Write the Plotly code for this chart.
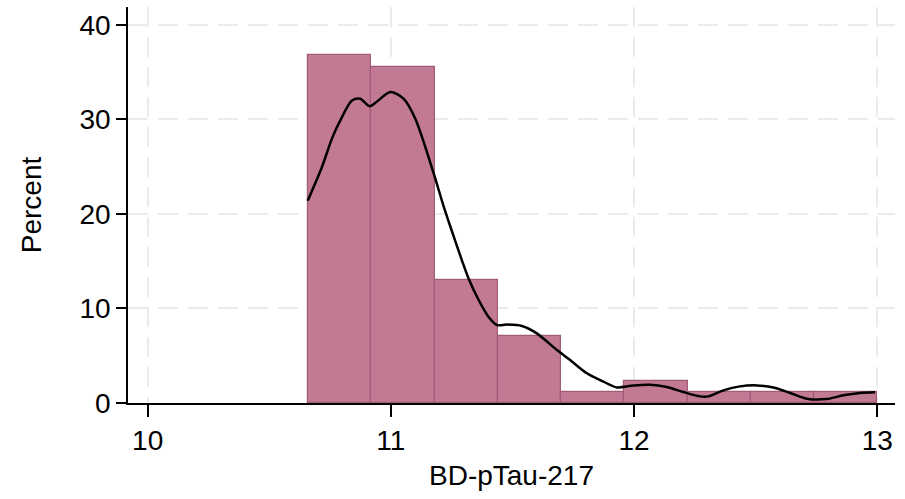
import plotly.graph_objects as go

# Histogram bin edges and percentages
bin_edges = [10.66, 10.92, 11.18, 11.44, 11.70, 11.96, 12.22, 12.48, 12.74, 13.00]
percent = [36.8, 35.6, 13.0, 7.1, 1.15, 2.35, 1.15, 1.15, 1.15]

# Kernel density curve (scaled to percent)
kde_x = [10.658, 10.717, 10.758, 10.792, 10.840, 10.874, 10.912, 10.943, 10.998,
         11.052, 11.100, 11.176, 11.217, 11.244, 11.292, 11.319, 11.361, 11.402,
         11.436, 11.477, 11.539, 11.600, 11.683, 11.737, 11.806, 11.874, 11.929,
         11.998, 12.066, 12.135, 12.203, 12.272, 12.306, 12.367, 12.436, 12.505,
         12.573, 12.642, 12.710, 12.792, 12.861, 12.929, 12.991]
kde_y = [21.4, 25.0, 28.0, 29.9, 32.0, 32.2, 31.4, 31.9, 32.9,
         32.2, 30.1, 24.3, 20.8, 18.7, 15.1, 13.2, 10.9, 9.1,
         8.25, 8.3, 8.15, 7.37, 5.6, 4.55, 3.14, 2.26, 1.65,
         1.86, 1.93, 1.69, 1.16, 0.70, 0.70, 1.33, 1.76, 1.86,
         1.65, 1.06, 0.46, 0.42, 0.81, 1.06, 1.13]

x_ticks = [10, 11, 12, 13]
y_ticks = [0, 10, 20, 30, 40]

centers = [(a + b) / 2 for a, b in zip(bin_edges[:-1], bin_edges[1:])]
widths = [b - a for a, b in zip(bin_edges[:-1], bin_edges[1:])]

fig = go.Figure()
fig.add_trace(go.Bar(
    x=centers, y=percent, width=widths,
    marker=dict(color="rgb(193,121,148)",
                line=dict(color="rgb(160,92,120)", width=1.2)),
    showlegend=False, hoverinfo="skip"))
fig.add_trace(go.Scatter(
    x=kde_x, y=kde_y, mode="lines",
    line=dict(color="black", width=2.5, shape="spline", smoothing=0.8),
    showlegend=False, hoverinfo="skip"))

font = "Liberation Sans, Arial, sans-serif"
fig.update_layout(
    width=905, height=499,
    margin=dict(l=128, r=10, t=7, b=96),
    paper_bgcolor="white", plot_bgcolor="white",
    font=dict(family=font, size=28, color="black"),
    bargap=0,
)
fig.update_xaxes(
    range=[9.919, 13.073], tickvals=x_ticks, ticktext=[str(v) for v in x_ticks],
    showline=True, linecolor="black", linewidth=1.5,
    ticks="outside", ticklen=12, tickwidth=1.5, tickcolor="black",
    showgrid=True, gridcolor="rgb(235,235,235)", gridwidth=1.5, griddash="20px,10px",
    zeroline=False,
    title=dict(text="BD-pTau-217", font=dict(size=28), standoff=10),
    tickfont=dict(size=28),
)
fig.update_yaxes(
    range=[0, 41.9], tickvals=y_ticks, ticktext=[str(v) for v in y_ticks],
    showline=True, linecolor="black", linewidth=1.5,
    ticks="outside", ticklen=10, tickwidth=1.5, tickcolor="black",
    showgrid=True, gridcolor="rgb(235,235,235)", gridwidth=1.5, griddash="20px,10px",
    zeroline=False,
    title=dict(text="Percent", font=dict(size=28), standoff=30),
    tickfont=dict(size=28),
)

fig.write_html("out.html", config={"displayModeBar": False},
               post_script="document.body.style.margin='0';")
